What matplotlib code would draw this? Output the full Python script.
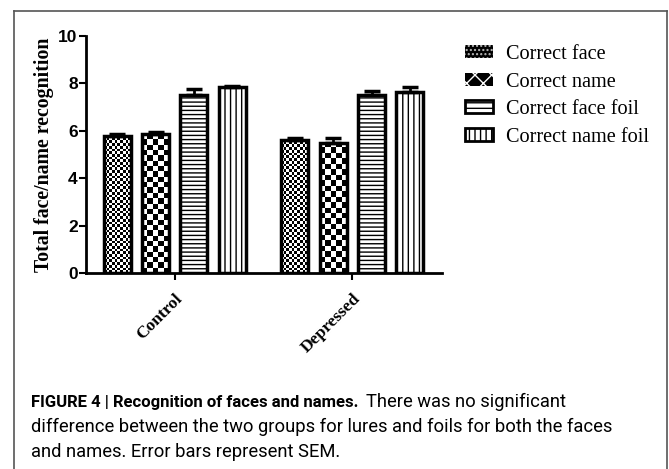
import numpy as np
import matplotlib
matplotlib.use('Agg')
import matplotlib.pyplot as plt
from matplotlib.patches import Patch
from matplotlib.lines import Line2D

groups = ['Control', 'Depressed']
series = ['Correct face', 'Correct name', 'Correct face foil', 'Correct name foil']
means = {
    'Correct face':      [5.80, 5.62],
    'Correct name':      [5.85, 5.50],
    'Correct face foil': [7.52, 7.50],
    'Correct name foil': [7.85, 7.63],
}
sems = {
    'Correct face':      [0.08, 0.06],
    'Correct name':      [0.08, 0.18],
    'Correct face foil': [0.25, 0.18],
    'Correct name foil': [0.05, 0.22],
}
yticks = [0, 2, 4, 6, 8, 10]

serif = 'Liberation Serif'
sans = 'Liberation Sans'

fig = plt.figure(figsize=(6.69, 4.69), dpi=100)
ax = fig.add_axes([86/669, 1-273/469, (442-86)/669, (273-36)/469])

x = np.arange(len(groups))
width = 0.152
step = 0.216
offsets = (np.arange(len(series)) - 1.5) * step

def checker(bar, cells_across):
    x0, y0 = bar.get_x(), bar.get_y()
    w, h = bar.get_width(), bar.get_height()
    cell = w / cells_across
    ny = max(1, int(round(h / (cell * 178 / 23.7))))
    nx = cells_across
    arr = np.indices((ny, nx)).sum(0) % 2
    im = ax.imshow(arr, extent=(x0, x0 + w, y0, y0 + h), cmap='gray',
                   interpolation='nearest', aspect='auto', zorder=2,
                   origin='lower')
    im.set_clip_path(bar)

for i, s in enumerate(series):
    pos = x + offsets[i]
    if i < 2:
        bars = ax.bar(pos, means[s], width, facecolor='none',
                      edgecolor='black', linewidth=2.5, zorder=3)
        for b in bars:
            checker(b, 10 if i == 0 else 5)
    else:
        hatch = '----' if i == 2 else '|||'
        ax.bar(pos, means[s], width, facecolor='white', edgecolor='black',
               hatch=hatch, linewidth=2.5, zorder=3)
    ax.errorbar(pos, means[s], yerr=[np.zeros(len(groups)), sems[s]],
                fmt='none', ecolor='black', elinewidth=2, capsize=6,
                capthick=2.5, zorder=4)

ax.set_xlim(-0.5, 1.505)
ax.set_ylim(0, 10)
ax.set_yticks(yticks)
ax.set_yticklabels([str(v) for v in yticks], fontfamily=sans,
                   fontweight='bold', fontsize=12.5)
ax.set_xticks(x)
ax.set_xticklabels(groups, rotation=45, ha='right', rotation_mode='anchor',
                   fontfamily=serif, fontweight='bold', fontsize=12.5)
ax.tick_params(axis='both', width=1.5, length=5, direction='out')
ax.tick_params(axis='x', pad=8)
ax.tick_params(axis='y', pad=1)
for sp in ['top', 'right']:
    ax.spines[sp].set_visible(False)
for sp in ['left', 'bottom']:
    ax.spines[sp].set_linewidth(2)
ax.set_ylabel('Total face/name recognition', fontfamily=serif,
              fontweight='bold', fontsize=14.3, labelpad=3)

handles = [
    Patch(facecolor='black', edgecolor='#bbbbbb', hatch='....', linewidth=0),
    Patch(facecolor='black', edgecolor='white', hatch='xx', linewidth=0),
    Patch(facecolor='white', edgecolor='black', hatch='---', linewidth=2),
    Patch(facecolor='white', edgecolor='black', hatch='|||', linewidth=2),
]
fig.legend(handles, series, loc='upper left', bbox_to_anchor=(465/669, 1-45/469),
           frameon=False, prop={'family': serif, 'size': 14.6},
           handlelength=1.4, handleheight=0.62, labelspacing=0.42,
           handletextpad=0.6, borderpad=0, borderaxespad=0)

# frame around the figure panel
bx0, bx1, by1 = 14/669, 667/669, 1-11/469
for xs, ys in [([bx0, bx0], [0, by1]), ([bx0, bx1], [by1, by1]), ([bx1, bx1], [by1, 0])]:
    fig.add_artist(Line2D(xs, ys, color='#555555', linewidth=1.2,
                          transform=fig.transFigure))

# caption
fig.canvas.draw()
r = fig.canvas.get_renderer()
t1 = fig.text(31/669, 1-402/469, 'FIGURE 4 | Recognition of faces and names.',
              fontfamily='Roboto', fontweight='bold', fontsize=12, va='center')
ext = t1.get_window_extent(r)
fig.text((ext.x1 + 8)/669, 1-402/469, 'There was no significant',
         fontfamily='Roboto', fontsize=13.2, va='center')
fig.text(31/669, 1-427/469,
         'difference between the two groups for lures and foils for both the faces',
         fontfamily='Roboto', fontsize=13.2, va='center')
fig.text(31/669, 1-452/469, 'and names. Error bars represent SEM.',
         fontfamily='Roboto', fontsize=13.2, va='center')

fig.savefig('out.png', dpi=100)
